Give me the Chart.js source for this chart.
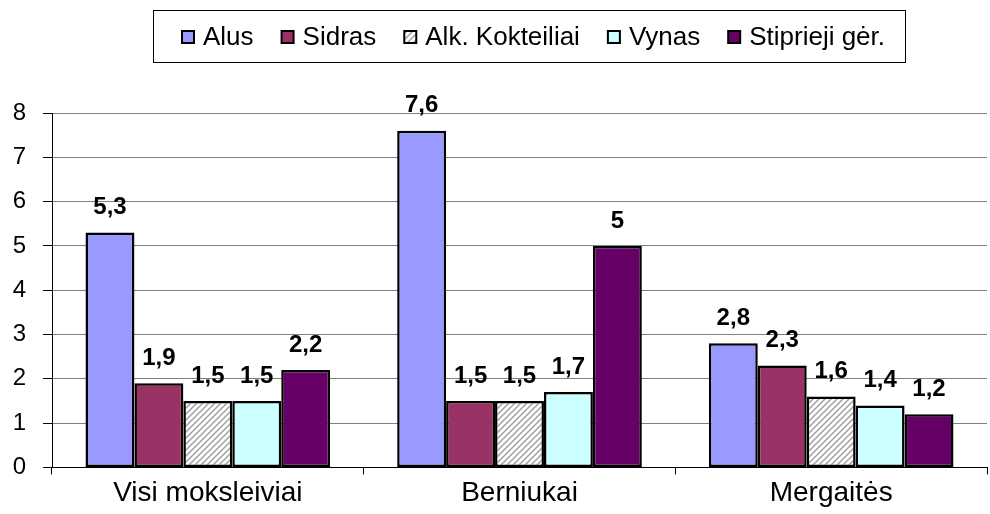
<!DOCTYPE html>
<html>
<head>
<meta charset="utf-8">
<script src="https://cdn.jsdelivr.net/npm/chart.js@4/dist/chart.umd.min.js"></script>
<style>
  html, body { margin: 0; padding: 0; background: #fff; }
  #wrap { width: 990px; height: 514px; }
</style>
</head>
<body>
<div id="wrap"><canvas id="myChart"></canvas></div>
<script>
const categories = ['Visi moksleiviai', 'Berniukai', 'Mergaitės'];
const seriesNames = ['Alus', 'Sidras', 'Alk. Kokteiliai', 'Vynas', 'Stiprieji gėr.'];
const alus = [5.3, 7.6, 2.8];
const sidras = [1.9, 1.5, 2.3];
const kokteiliai = [1.5, 1.5, 1.6];
const vynas = [1.5, 1.7, 1.4];
const stiprieji = [2.2, 5, 1.2];
const yTicks = [0, 1, 2, 3, 4, 5, 6, 7, 8];

const FONT = 'Arial, "Liberation Sans", sans-serif';

const makeHatch = () => {
    const c = document.createElement('canvas');
    c.width = 6; c.height = 6;
    const g = c.getContext('2d');
    g.fillStyle = '#ffffff';
    g.fillRect(0, 0, 6, 6);
    g.strokeStyle = '#a0a0a0';
    g.lineWidth = 1.5;
    g.beginPath();
    g.moveTo(0, 6); g.lineTo(6, 0);
    g.moveTo(-1, 1); g.lineTo(1, -1);
    g.moveTo(5, 7); g.lineTo(7, 5);
    g.stroke();
    return g.createPattern(c, 'repeat');
};

const hatch = makeHatch();
const colors = ['#9999ff', '#993366', hatch, '#ccffff', '#660066'];
const values = [alus, sidras, kokteiliai, vynas, stiprieji];

const valueLabels = {
    id: 'valueLabels',
    afterDatasetsDraw(chart) {
        const ctx = chart.ctx;
        ctx.save();
        ctx.font = 'bold 24px ' + FONT;
        ctx.fillStyle = '#000';
        ctx.textAlign = 'center';
        ctx.textBaseline = 'middle';
        chart.data.datasets.forEach((ds, i) => {
            chart.getDatasetMeta(i).data.forEach((bar, j) => {
                const txt = String(ds.data[j]).replace('.', ',');
                ctx.fillText(txt, bar.x, bar.y - 25);
            });
        });
        ctx.restore();
    }
};

// legend drawn by hand so it can sit in its framed box
const boxLegend = {
    id: 'boxLegend',
    afterDraw(chart) {
        const ctx = chart.ctx;
        ctx.save();
        ctx.font = '26px ' + FONT;
        const box = 12, gap = 9, spacing = 28;
        const startX = 182, cy = 37;
        let x = startX;
        ctx.textBaseline = 'middle';
        ctx.textAlign = 'left';
        chart.data.datasets.forEach((ds, i) => {
            ctx.fillStyle = ds.backgroundColor;
            ctx.fillRect(x, cy - box / 2, box, box);
            ctx.strokeStyle = '#000';
            ctx.lineWidth = 2;
            ctx.strokeRect(x, cy - box / 2, box, box);
            ctx.fillStyle = '#000';
            ctx.fillText(seriesNames[i], x + box + gap, cy + 1);
            x += box + gap + ctx.measureText(seriesNames[i]).width + spacing;
        });
        const right = x - spacing + 20;
        ctx.lineWidth = 1;
        ctx.strokeRect(153.5, 10.5, Math.round(right - 153), 52);
        ctx.restore();
    }
};

const ctx = document.getElementById('myChart');

new Chart(ctx, {
    type: 'bar',
    data: {
        labels: categories,
        datasets: seriesNames.map((name, i) => ({
            label: name,
            data: values[i],
            backgroundColor: colors[i],
            borderColor: '#000',
            borderWidth: 2.5,
            borderSkipped: false,
            categoryPercentage: 0.785,
            barPercentage: 1
        }))
    },
    options: {
        responsive: true,
        maintainAspectRatio: false,
        animation: false,
        layout: { padding: { top: 113, right: 3, left: 0, bottom: 2 } },
        plugins: {
            tooltip: { enabled: false },
            legend: { display: false }
        },
        scales: {
            x: {
                offset: true,
                grid: { display: true, drawOnChartArea: false, offset: true, tickLength: 7, color: '#000', lineWidth: 1 },
                border: { color: '#000', width: 1 },
                ticks: { font: { family: FONT, size: 28 }, color: '#000', padding: 2 }
            },
            y: {
                min: 0,
                max: 8,
                afterBuildTicks: axis => { axis.ticks = yTicks.map(v => ({ value: v })); },
                afterFit: axis => { axis.width = 52; },
                grid: { color: '#808080', lineWidth: 1, tickLength: 9, tickColor: '#000' },
                border: { color: '#000', width: 1 },
                ticks: { font: { family: FONT, size: 24 }, color: '#000', padding: 17 }
            }
        }
    },
    plugins: [valueLabels, boxLegend]
});
</script>
</body>
</html>
